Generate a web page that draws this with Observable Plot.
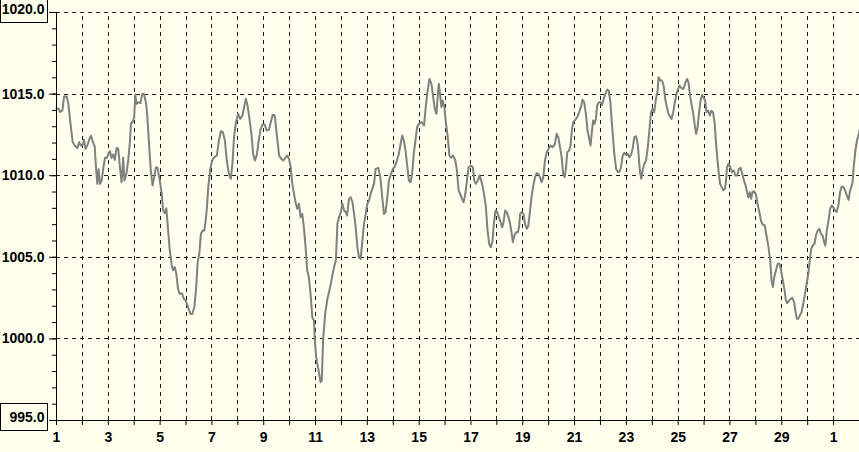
<!DOCTYPE html>
<html><head><meta charset="utf-8">
<script src="https://cdn.jsdelivr.net/npm/d3@7"></script>
<script src="https://cdn.jsdelivr.net/npm/@observablehq/plot@0.6"></script>
<style>
html,body{margin:0;padding:0;background:#ffffee;overflow:hidden;}
#chart svg{display:block;}
</style></head><body><div id="chart"></div>
<script>
// hours since day 1, 00:00
const hours = [0,2,3.4,5.5,7,9.5,11,12.6,15,17,19.4,21,22.5,24.3,25.5,26.8,28.6,30.5,32,33.5,35.4,36.6,37.8,39,40.3,41.8,43.4,45,47,48.3,49.5,51,52.6,54,55.7,57.2,58.8,60.3,61.8,63,65,66.5,68,69,71,72,73,74,75.7,77.8,79.4,81,82.8,84,85.5,87.4,89,90.5,92,93.5,95.7,97.5,98.8,100.3,101.8,103.4,105,106.8,108,109.5,111,112.6,114,116.3,118,119.7,
122,124,125.8,127.7,129.2,130.8,132.3,133.8,135.4,137,138.2,139.4,140.6,142.5,144.3,146.2,148.6,150.5,152.3,154.2,156,157.8,159.7,161.5,163,164.5,166,168.3,170.2,172.3,173.8,175.4,177,178.8,180.6,182.2,183.7,185.5,187.4,189.2,191,192.9,194.7,196.9,198.5,200.3,202.2,204,206.2,208.3,210.2,212,213.8,215.4,217,218.5,220,221.5,223,224.6,226.2,227.7,229.2,230.8,232.3,233.8,235.4,237,238.5,239.4,240.6,242.2,243.4,244.6,245.8,
247,248.9,251,253.2,255,257.2,258.8,260.3,261.8,263.4,264.9,266.5,268,269.2,271,272.6,274.2,275.7,277.2,278.8,280.3,281.8,283.4,284.9,286.5,288,289.5,292,294.2,295.7,298.2,300,301.8,303.4,304.9,306.5,308,309.5,311.7,313.5,315.4,317.2,318.8,320.3,321.8,323.4,324.9,326.5,328,329.5,331,332.6,334.1,335.7,338.2,340.6,341.8,343.4,345.5,347.4,349,350.5,352,353.2,354.2,355.4,356.6,357.8,359.4,360.9,362.5,364,365.5,367.4,369.5,371,
372.6,374,375.7,377.2,378.8,380.3,381.8,384,385.8,387,388.6,390.2,392,393.5,395,396.6,397.8,399.4,400.9,402.5,404,405.2,406.8,408.3,409.8,411.4,412.9,414.2,415.7,417.2,418.8,420.3,421.8,422.8,424.3,425.8,427.4,428.6,429.5,431,432.6,434.1,435.7,437.2,438.8,440.3,441.8,443.4,444.9,446.5,448,449.5,451,452.6,454.2,456,457.8,459.7,461.8,463.4,464.9,466.5,468,469.5,470.8,472,473.2,475,476.3,477.5,478.8,480.6,482.5,484.3,485.8,487.4,488.9,490.5,492,
494.8,496,497.2,498.5,499.7,500.9,502.5,504,505.5,507,508.6,510.2,511.7,513.2,514.5,515.7,517,518.5,520,521.8,523,524.6,526.2,527.7,529.2,530.8,532.3,533.8,535.4,537,538.5,539.4,540.6,541.8,543,544.6,546.2,547.7,549.2,550.8,552.3,553.8,555.4,557,557.8,559.4,561,562.5,564,565.5,567,568.6,569.8,571.4,572.9,574.5,576,577.2,579,580.9,582.8,584.3,585.5,587,588.6,590.2,591.4,592.6,593.8,595.4,597,598.2,599.4,601,602.2,603.8,605.3,606.8,608.3,609.9,611,612.3,613.5,614.8,616.3,617.8,619.4,
620.2,621.2,622.7,624.3,625.9,627.5,629,630.6,632.2,633.8,635.4,637,638.5,639.8,641,642.3,643.6,644.8,646.4,648,649.6,651.2,652.7,654.3,656.2,658.1,659.7,661.3,662.5,663.8,665,666.6,668.2,669.8,671.4,673,674.6,675.8,677.1,678.6,680.2,681.8,683.4,684.6,685.9,687.2,688.7,690.3,691.9,693.5,695,696.6,697.9,699.2,700.7,702.3,703.6,705.2,706.8,708.3,709.9,711.2,712.4,713.7,715.3,716.8,718.4,720,721.3,722.8,724.4,726,727.5,729.2,730.7,732.3,733.9,735.2,736.4,737.6,738.6,740.2,741.7,743.4,744];

// pressure, hPa
const pressure = [1014.16,1014.1,1013.9,1014.0,1014.85,1014.85,1014.4,1013.4,1012.05,1011.85,1011.7,1012.05,1011.85,1011.9,1012.2,1011.65,1011.85,1012.25,1012.45,1012.1,1011.8,1010.5,1009.5,1010.4,1009.5,1009.7,1010.5,1011.1,1011.1,1011.4,1011.5,1011.1,1011.3,1010.97,1011.7,1011.65,1010.5,1009.6,1011.1,1009.7,1010.2,1011.0,1012.05,1013.2,1013.35,1013.6,1014.98,1014.4,1014.5,1014.45,1015.0,1015.0,1014.5,1013.8,1012.15,1010.3,1009.4,1009.9,1010.5,1010.5,1009.7,1008.9,1007.9,1007.7,1008.0,1006.65,1005.4,1004.5,1004.2,1004.4,1004.0,1003.07,1002.76,1002.8,1002.45,1002.35,
1001.94,1001.53,1001.53,1001.94,1002.96,1004.7,1005.2,1006.44,1006.64,1006.64,1007.25,1008.07,1009.3,1010.42,1010.93,1011.14,1011.24,1012.16,1012.73,1012.67,1012.16,1010.93,1010.11,1009.81,1010.73,1012.36,1013.18,1013.79,1013.48,1013.69,1014.2,1014.71,1014.3,1013.48,1012.57,1011.34,1010.93,1011.24,1012.16,1012.87,1013.14,1013.14,1012.77,1012.81,1013.28,1013.73,1013.69,1012.57,1011.24,1011.03,1010.93,1011.09,1011.24,1011.03,1010.52,1009.5,1008.89,1008.38,1007.97,1008.28,1007.46,1007.66,1006.85,1005.62,1004.19,1003.78,1002.76,1001.33,1001.13,999.9,998.88,998.27,997.86,997.35,997.45,
999.9,1001.53,1002.45,1003.07,1003.68,1004.4,1004.8,1007.05,1007.46,1007.77,1008.28,1007.87,1007.77,1007.56,1008.58,1008.68,1008.38,1007.66,1006.85,1005.62,1005.0,1004.9,1006.03,1007.05,1007.66,1008.28,1008.48,1009.09,1009.5,1010.42,1010.48,1009.91,1008.68,1007.66,1007.77,1008.68,1009.7,1010.01,1010.42,1010.56,1010.93,1011.34,1011.95,1012.46,1012.16,1011.54,1010.63,1009.7,1009.6,1010.11,1011.34,1012.16,1012.97,1013.18,1013.28,1013.08,1014.0,1015.0,1015.93,1015.63,1014.81,1014.1,1013.79,1014.81,1015.63,1015.0,1014.2,1014.61,1014.2,1013.18,1012.36,1011.24,1011.1,1011.24,1010.93,1010.32,
1009.1,1008.89,1008.58,1008.38,1008.89,1009.7,1010.52,1010.62,1010.52,1009.7,1009.5,1009.7,1010.01,1009.7,1009.3,1008.69,1008.07,1006.64,1005.82,1005.62,1006.03,1007.05,1007.87,1007.77,1007.46,1007.15,1006.85,1007.15,1007.87,1007.77,1007.46,1007.05,1006.44,1005.93,1006.34,1006.54,1006.54,1006.85,1007.66,1007.77,1007.66,1007.05,1006.75,1006.95,1007.87,1008.79,1009.4,1009.91,1010.15,1010.11,1009.91,1009.6,1009.91,1010.93,1011.44,1011.65,1011.85,1011.75,1011.95,1012.57,1012.36,1011.75,1011.14,1010.11,1009.91,1010.42,1011.44,1011.54,1011.85,1012.77,1013.28,1013.42,1013.59,1013.9,1014.2,1014.65,1014.51,1013.79,1012.77,
1011.85,1012.67,1013.38,1013.18,1013.48,1014.3,1014.5,1014.5,1014.34,1014.71,1015.02,1015.28,1015.22,1014.5,1013.28,1012.26,1011.24,1010.42,1010.22,1010.26,1010.52,1011.24,1011.4,1011.28,1011.34,1011.14,1011.28,1011.65,1012.36,1012.42,1011.95,1011.24,1010.22,1009.81,1010.32,1010.73,1010.93,1011.65,1012.67,1013.89,1014.1,1013.89,1014.71,1015.22,1016.04,1015.83,1015.83,1015.53,1014.71,1014.2,1013.79,1013.59,1013.48,1013.89,1014.5,1015.02,1015.32,1015.53,1015.36,1015.32,1015.73,1015.93,1015.73,1014.91,1014.3,1013.69,1013.08,1012.57,1012.87,1013.89,1014.71,1014.95,1014.81,1014.61,1013.89,1013.99,1013.69,1013.99,1013.89,1013.18,1012.06,1011.03,1010.22,1009.5,1009.3,1009.1,1009.2,
1009.6,1010.52,1010.73,1010.52,1010.22,1010.32,1010.01,1010.01,1010.42,1010.48,1010.11,1009.7,1009.4,1008.99,1008.68,1008.99,1008.58,1008.99,1009.05,1008.85,1008.27,1007.77,1007.25,1007.01,1006.95,1006.23,1005.62,1004.8,1003.58,1003.17,1003.78,1004.19,1004.6,1004.6,1004.19,1003.58,1002.97,1002.35,1002.19,1002.35,1002.45,1002.52,1002.25,1001.74,1001.23,1001.23,1001.43,1001.64,1002.15,1002.76,1003.37,1003.99,1004.8,1005.52,1005.72,1005.83,1006.33,1006.64,1006.74,1006.44,1006.33,1005.93,1005.72,1006.64,1007.25,1007.97,1008.17,1008.03,1007.87,1007.77,1008.17,1008.99,1009.34,1009.3,1009.09,1008.79,1008.52,1009.09,1009.3,1009.6,1010.52,1011.54,1012.16,1012.57,1012.8];

const dayLabels = ["1","3","5","7","9","11","13","15","17","19","21","23","25","27","29","1"];
const yMajor = [995, 1000, 1005, 1010, 1015, 1020];
const yBoxed = [995, 1020];
const yMinor = d3.range(995, 1021);
const dayTicks = d3.range(0, 31).map(d => d * 24);
const labelTicks = dayLabels.map((_, i) => i * 48);

const data = hours.map((h, i) => ({h, p: pressure[i]}));
const FONT = "'Liberation Sans', Arial, sans-serif";
const GRID = "#1a1a1a";
const FS = 14;
const blank = () => "";

const plot = Plot.plot({
  width: 859, height: 452,
  marginLeft: 56, marginRight: 0, marginTop: 12, marginBottom: 32,
  x: {domain: [0, 744], axis: null},
  y: {domain: [995, 1020], axis: null},
  style: {background: "#ffffee", fontFamily: FONT, color: "#000", overflow: "visible"},
  marks: [
    Plot.ruleX(dayTicks.slice(1), {y1: 995, y2: 1020, stroke: GRID, strokeDasharray: "4,4", shapeRendering: "crispEdges"}),
    Plot.ruleY(yMajor.slice(1), {stroke: GRID, strokeDasharray: "4,4", shapeRendering: "crispEdges"}),
    Plot.line(data, {x: "h", y: "p", stroke: "#808080", strokeWidth: 2}),
    Plot.ruleX([0], {y1: 995, y2: 1020, stroke: "#000", shapeRendering: "crispEdges"}),
    Plot.ruleY([995], {stroke: "#000", shapeRendering: "crispEdges"}),
    Plot.axisY({ticks: yMinor, tickSize: 4, tickFormat: blank, label: null, stroke: "#000"}),
    Plot.axisY({ticks: yMajor, tickSize: 7, tickPadding: 5, label: null, stroke: "#000",
      tickFormat: d => yBoxed.includes(d) ? "" : d.toFixed(1), fontSize: FS, fontWeight: "bold", fill: "#000"}),
    Plot.axisX({ticks: dayTicks, tickSize: 5, tickFormat: blank, label: null, stroke: "#000"}),
    Plot.axisX({ticks: labelTicks, tickSize: 0, tickPadding: 12, label: null,
      tickFormat: d => dayLabels[Math.round(d / 48)], fontSize: FS, fontWeight: "bold", fill: "#000"}),
    Plot.text(yBoxed, {x: () => 0, y: d => d, text: d => d.toFixed(1), dx: -12, dy: -3,
      textAnchor: "end", fontSize: FS, fontWeight: "bold", fill: "#000"})
  ]
});
document.getElementById("chart").appendChild(plot);

// boxes around the extreme y labels
const ys = plot.scale("y");
const svg = d3.select(plot);
for (const v of yBoxed) {
  const ty = Math.round(ys.apply(v));
  svg.append("rect")
    .attr("x", 0.5).attr("y", ty - 17 + 0.5)
    .attr("width", 47).attr("height", 27)
    .attr("fill", "none").attr("stroke", "#000").attr("shape-rendering", "crispEdges");
}
</script>
</body></html>
